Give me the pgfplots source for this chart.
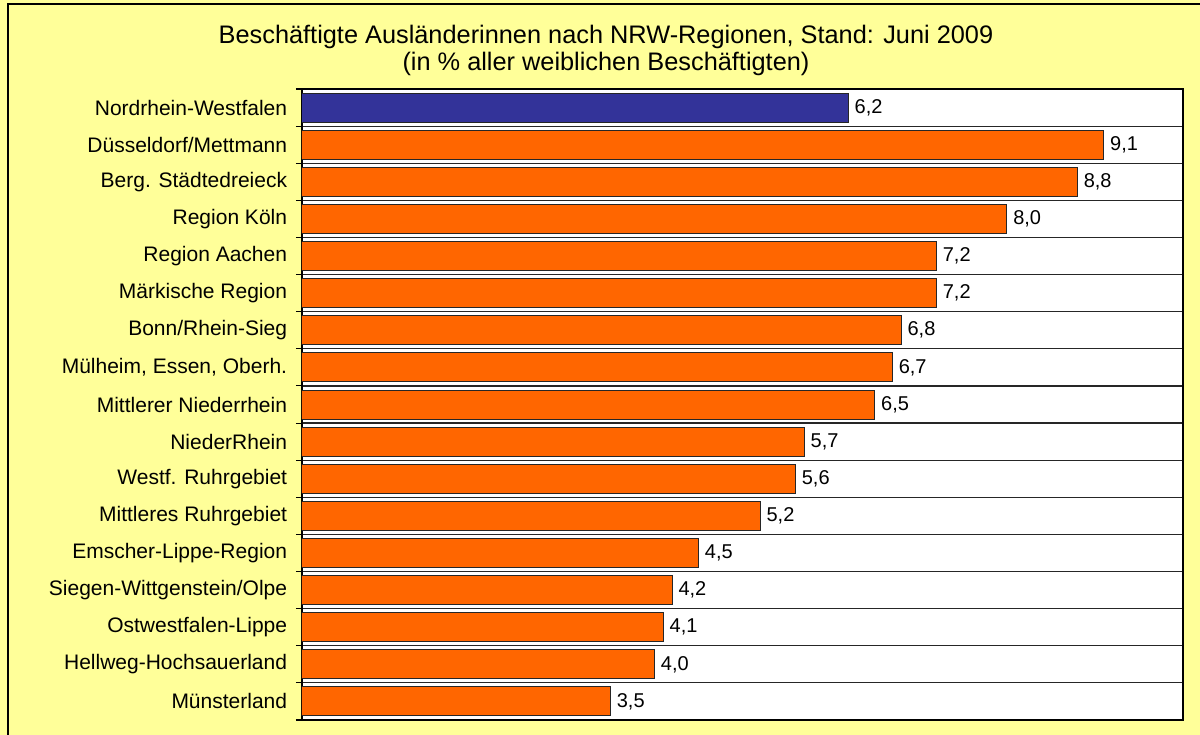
\documentclass[border=0pt]{standalone}
\usepackage{pgfplots}
\pgfplotsset{compat=1.18}
\usepackage{fontspec}
\setmainfont{Liberation Sans}
\definecolor{bg}{HTML}{FFFF99}
\definecolor{nrwblue}{HTML}{333399}
\definecolor{barorange}{HTML}{FF6600}
\begin{document}
\begin{tikzpicture}
\clip (0,0) rectangle (900pt,551.25pt);
\fill[bg] (0,0) rectangle (900pt,551.25pt);
\draw[black, line width=1.3pt] (6pt,-5pt) -- (6pt,548.25pt) -- (910pt,548.25pt);
\node[font=\fontsize{19}{20.5}\selectfont, align=center] at (454.5pt,513.5pt)
  {Beschäftigte Ausländerinnen nach NRW-Regionen, Stand: Juni 2009\\(in \% aller weiblichen Beschäftigten)};
\begin{axis}[
  at={(226.5pt,11.25pt)}, anchor=south west,
  scale only axis, width=660.75pt, height=473.25pt,
  xbar, bar width=21.75pt, bar shift=0pt,
  xmin=0, xmax=10, ymin=-0.5, ymax=16.5, y dir=reverse,
  axis background/.style={fill=white},
  axis line style={black, line width=0.9pt},
  xtick=\empty,
  ytick={0,...,16},
  yticklabels={Nordrhein-Westfalen,Düsseldorf/Mettmann,Berg. Städtedreieck,Region Köln,Region Aachen,Märkische Region,Bonn/Rhein-Sieg,{Mülheim, Essen, Oberh.},Mittlerer Niederrhein,NiederRhein,Westf. Ruhrgebiet,Mittleres Ruhrgebiet,Emscher-Lippe-Region,Siegen-Wittgenstein/Olpe,Ostwestfalen-Lippe,Hellweg-Hochsauerland,Münsterland},
  minor ytick={-0.5,0.5,...,16.5},
  yminorgrids, minor grid style={black!85, line width=0.9pt},
  major tick length=0pt, minor tick length=4.5pt,
  tick align=outside, ytick pos=left,
  minor tick style={black, line width=0.8pt},
  yticklabel style={font=\fontsize{15.75}{18}\selectfont, inner sep=0pt, xshift=-11pt},
  nodes near coords, point meta=explicit symbolic,
  nodes near coords style={font=\fontsize{15}{17}\selectfont, anchor=west, inner sep=0pt, xshift=4.5pt, text=black},
]
\addplot[fill=nrwblue, draw=black!85, line width=0.75pt] coordinates {(6.2,0) [{6,2}]};
\addplot[fill=barorange, draw=black!85, line width=0.75pt] coordinates {
(9.1,1) [{9,1}]
(8.8,2) [{8,8}]
(8.0,3) [{8,0}]
(7.2,4) [{7,2}]
(7.2,5) [{7,2}]
(6.8,6) [{6,8}]
(6.7,7) [{6,7}]
(6.5,8) [{6,5}]
(5.7,9) [{5,7}]
(5.6,10) [{5,6}]
(5.2,11) [{5,2}]
(4.5,12) [{4,5}]
(4.2,13) [{4,2}]
(4.1,14) [{4,1}]
(4.0,15) [{4,0}]
(3.5,16) [{3,5}]
};
\end{axis}
\end{tikzpicture}
\end{document}
